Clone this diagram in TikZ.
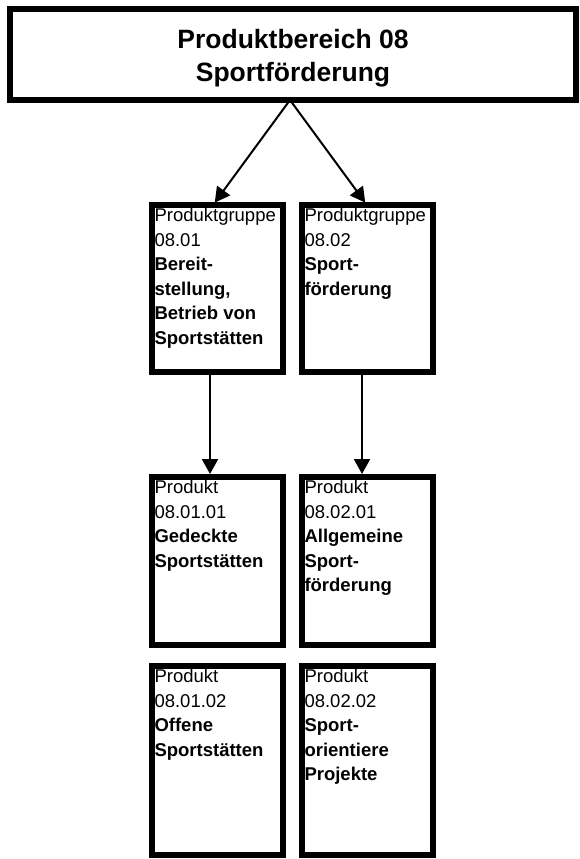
\documentclass[tikz,border=0pt]{standalone}
\usepackage{fontspec}
\setmainfont{Liberation Sans}
\usetikzlibrary{
    arrows.meta,
    positioning
}
\newcommand{\eintrag}[2]{\parbox[t][#1][t]{125pt}{\fontsize{18.5}{24.6}\selectfont #2}}
\tikzstyle{bereich} = [
    rectangle,
    draw,
    line width=6pt,
    outer sep=0pt,
    minimum width=566pt,
    minimum height=91pt,
    align=center,
    font=\fontsize{26.5}{33}\selectfont\bfseries
]
\tikzstyle{einheit} = [
    rectangle,
    draw,
    line width=6pt,
    outer sep=0pt,
    inner sep=3pt,
    anchor=north
]
\tikzstyle{pfeil} = [
    -{Triangle[width=16pt,length=15pt]},
    line width=2pt,
    shorten >=3pt
]

\begin{document}
\begin{tikzpicture}[x=1pt, y=1pt]
    \useasboundingbox (0,0) rectangle (579,-859);

    % Produktbereich
    \node[bereich] (bereich) at (293,-54.5) {\rule{0pt}{27.5pt}Produktbereich 08\\Sportförderung};

    % Produktgruppen
    \node[einheit] (gruppe1) at (217,-205) {\eintrag{161pt}{Produktgruppe\\08.01\\\textbf{Bereit-}\\\textbf{stellung,}\\\textbf{Betrieb von}\\\textbf{Sportstätten}}};
    \node[einheit, right=19pt of gruppe1] (gruppe2) {\eintrag{161pt}{Produktgruppe\\08.02\\\textbf{Sport-}\\\textbf{förderung}}};

    % Produkte
    \node[einheit, below=105pt of gruppe1] (produkt11) {\eintrag{162pt}{Produkt\\08.01.01\\\textbf{Gedeckte}\\\textbf{Sportstätten}}};
    \node[einheit, below=105pt of gruppe2] (produkt21) {\eintrag{162pt}{Produkt\\08.02.01\\\textbf{Allgemeine}\\\textbf{Sport-}\\\textbf{förderung}}};
    \node[einheit, below=21pt of produkt11] (produkt12) {\eintrag{183pt}{Produkt\\08.01.02\\\textbf{Offene}\\\textbf{Sportstätten}}};
    \node[einheit, below=21pt of produkt21] (produkt22) {\eintrag{183pt}{Produkt\\08.02.02\\\textbf{Sport-}\\\textbf{orientiere}\\\textbf{Projekte}}};

    \draw[pfeil] ([xshift=-3pt]bereich.south) -- ([xshift=-4pt]gruppe1.north);
    \draw[pfeil] ([xshift=-3pt]bereich.south) -- (gruppe2.north);
    \draw[pfeil] ([xshift=-7pt]gruppe1.south) -- ([xshift=-7pt]produkt11.north);
    \draw[pfeil] ([xshift=-5pt]gruppe2.south) -- ([xshift=-5pt]produkt21.north);
\end{tikzpicture}
\end{document}
